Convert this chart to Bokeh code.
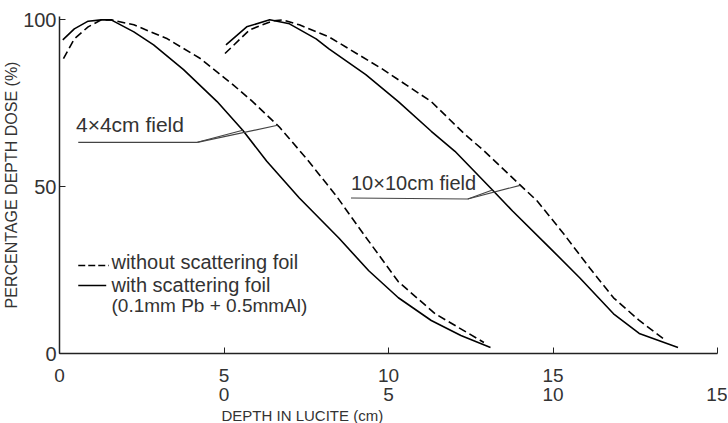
from bokeh.plotting import figure
from bokeh.models import Range1d, LinearAxis, FixedTicker, Label, Title
from bokeh.embed import file_html
from bokeh.resources import INLINE

FONT = "Liberation Sans"

# 4x4 cm field: depth in Lucite (cm) vs percentage depth dose
d4_with = [0.1, 0.45, 0.87, 1.27, 1.57, 2.26, 2.86, 3.77, 4.79, 5.57, 6.30, 7.29, 8.49, 9.40, 10.30, 11.30, 12.2, 13.10]
p4_with = [94.0, 97.3, 99.6, 100, 100, 96.4, 92.5, 85.1, 75.5, 66.9, 57.6, 46.6, 34.6, 24.8, 16.7, 9.9, 5.4, 1.8]
d4_wo = [0.12, 0.45, 0.87, 1.27, 1.57, 2.26, 3.28, 4.28, 5.27, 5.87, 6.69, 7.50, 8.40, 9.3, 10.3, 11.42, 12.9]
p4_wo = [88.4, 94.3, 97.9, 100, 100, 98.5, 94.3, 88.4, 80.6, 75.5, 67.8, 58.5, 47.4, 35.0, 21.5, 11.9, 3.3]

# 10x10 cm field: depth in Lucite (cm), plotted on the scale shifted by 5 cm
d10_with = [0.06, 0.69, 1.39, 1.99, 2.80, 3.19, 4.31, 5.30, 6.30, 7.02, 8.16, 8.77, 9.91, 10.81, 11.84, 12.62, 13.80]
p10_with = [92.5, 97.9, 100, 98.8, 94.3, 91.3, 83.6, 75.5, 66.6, 60.6, 49.0, 42.7, 31.6, 22.7, 11.9, 6.0, 1.8]
d10_wo = [0.03, 0.78, 1.48, 1.78, 2.29, 3.19, 4.79, 6.30, 7.32, 7.92, 8.98, 9.52, 10.33, 11.11, 11.84, 12.62, 13.43]
p10_wo = [89.9, 97.0, 99.7, 100, 98.5, 94.9, 85.4, 75.5, 65.7, 60.6, 50.7, 45.7, 35.8, 25.7, 16.7, 9.9, 3.9]
SHIFT_10 = 5

x_ticks_top = [0, 5, 10, 15, 20]
x_ticks_top_labels = {0: "0", 5: "5", 10: "10", 15: "15", 20: ""}
x_ticks_bottom = [5, 10, 15, 20]
x_ticks_bottom_labels = {5: "0", 10: "5", 15: "10", 20: "15"}
y_ticks = [0, 50, 100]

p = figure(frame_width=658, frame_height=337,
           x_range=Range1d(0, 20), y_range=Range1d(0, 101),
           x_axis_type=None, y_axis_type=None,
           output_backend="svg", toolbar_location=None,
           min_border_left=58, min_border_right=10, min_border_top=16, min_border_bottom=0)
p.outline_line_color = None
p.xgrid.visible = False
p.ygrid.visible = False
TXT = "#333333"

def style_axis(ax):
    ax.major_label_text_font = FONT
    ax.major_label_text_font_size = "19px"
    ax.major_label_text_color = TXT
    ax.axis_label_text_font = FONT
    ax.axis_label_text_font_size = "16px"
    ax.axis_label_text_font_style = "normal"
    ax.axis_label_text_color = TXT
    ax.minor_tick_line_color = None
    ax.axis_line_width = 1.5
    ax.axis_line_color = "#222222"
    ax.major_tick_line_color = "#222222"
    ax.major_tick_in = 6
    ax.major_tick_out = 0

ax1 = LinearAxis(ticker=FixedTicker(ticks=x_ticks_top), major_label_overrides=x_ticks_top_labels)
style_axis(ax1)
ax1.major_label_standoff = 15
p.add_layout(ax1, "below")

ax2 = LinearAxis(ticker=FixedTicker(ticks=x_ticks_bottom), major_label_overrides=x_ticks_bottom_labels)
style_axis(ax2)
ax2.axis_line_color = None
ax2.major_tick_line_color = None
ax2.major_label_standoff = 3
p.add_layout(ax2, "below")

ay = LinearAxis(ticker=FixedTicker(ticks=y_ticks), axis_label="PERCENTAGE DEPTH DOSE (%)")
style_axis(ay)
ay.major_label_text_font_size = "20px"
ay.major_label_standoff = 3
ay.axis_label_standoff = 0
p.add_layout(ay, "left")

# x-axis title, placed under the scale as in the original (not centred on the frame)
p.add_layout(Title(text="DEPTH IN LUCITE (cm)", align="left", offset=162, standoff=3,
                   text_font=FONT, text_font_size="15px", text_font_style="normal",
                   text_color=TXT), "below")

LW = 1.6
DASH = "8 4"
p.line(d4_with, p4_with, line_color="black", line_width=LW)
p.line(d4_wo, p4_wo, line_color="black", line_width=LW, line_dash=DASH)
p.line([d + SHIFT_10 for d in d10_with], p10_with, line_color="black", line_width=LW)
p.line([d + SHIFT_10 for d in d10_wo], p10_wo, line_color="black", line_width=LW, line_dash=DASH)

# field labels with leader lines
LEAD = "#444444"
p.line([0.57, 4.19, 5.57], [63.3, 63.3, 66.9], line_color=LEAD, line_width=1.2)
p.line([4.19, 6.63], [63.3, 68.4], line_color=LEAD, line_width=1.2)
p.add_layout(Label(x=0.5, y=65.3, text="4×4cm field", text_font=FONT,
                   text_font_size="21px", text_color=TXT))
p.line([8.86, 12.41, 13.16], [46.6, 46.3, 49.0], line_color=LEAD, line_width=1.2)
p.line([12.41, 14.0], [46.3, 50.4], line_color=LEAD, line_width=1.2)
p.add_layout(Label(x=8.86, y=47.9, text="10×10cm field", text_font=FONT,
                   text_font_size="20px", text_color=TXT))

# legend
p.line([0.57, 1.5], [26.4, 26.4], line_color="black", line_width=1.5, line_dash="7 3")
p.add_layout(Label(x=1.58, y=24.0, text="without scattering foil", text_font=FONT,
                   text_font_size="20px", text_color=TXT))
p.line([0.57, 1.42], [20.4, 20.4], line_color="black", line_width=1.5)
p.add_layout(Label(x=1.58, y=17.1, text="with scattering foil", text_font=FONT,
                   text_font_size="20px", text_color=TXT))
p.add_layout(Label(x=1.58, y=11.1, text="(0.1mm Pb + 0.5mmAl)", text_font=FONT,
                   text_font_size="19px", text_color=TXT))

open("out.html", "w").write(file_html(p, INLINE))
